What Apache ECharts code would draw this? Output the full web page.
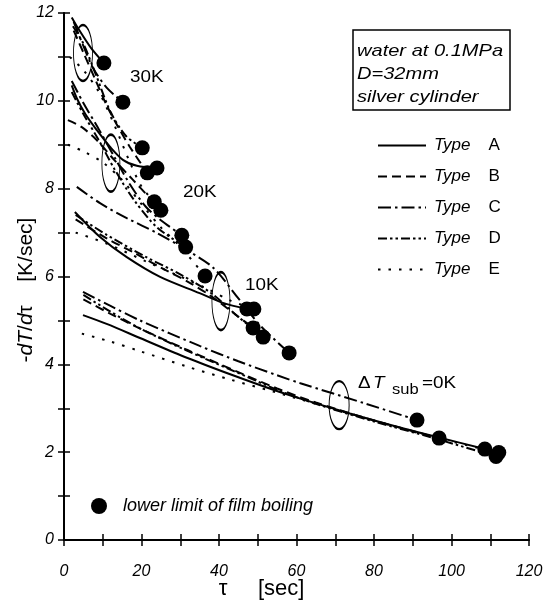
<!DOCTYPE html>
<html>
<head>
<meta charset="utf-8">
<script src="https://cdn.jsdelivr.net/npm/echarts@6/dist/echarts.min.js"></script>
<style>
  html, body { margin: 0; padding: 0; background: #fff; }
  #main { width: 560px; height: 601px; }
</style>
</head>
<body>
<div id="main"></div>
<script>
// cooling rate -dT/dtau vs. time tau, one curve per model type and subcooling
var typeNames = ['Type A', 'Type B', 'Type C', 'Type D', 'Type E'];

// [tau, rate] points, order A..E
var curves30K = [
  [[2, 11.9], [4, 11.6], [7, 11.2], [10.3, 10.86]],
  [[2.5, 11.6], [5, 11.1], [8, 10.5], [11, 9.9], [14, 9.4], [17, 8.95], [21.5, 8.36]],
  [[2.5, 11.8], [5, 11.25], [7.5, 10.75], [11, 10.3], [15.2, 9.97]],
  [[2.3, 11.7], [5, 11.3], [8, 10.65], [12, 9.75], [16, 9.2], [20.2, 8.93]],
  [[1.5, 11.0], [5, 10.7], [9, 10.2], [13, 9.45], [17, 8.6], [20, 8.05], [23.3, 7.7]]
];
var curves20K = [
  [[2, 10.35], [3.3, 10.06], [5.5, 9.7], [8.5, 9.33], [11.9, 8.95], [15.3, 8.65], [18.8, 8.52], [24, 8.47]],
  [[1, 9.56], [4.6, 9.4], [8.5, 9.1], [13, 8.65], [17.8, 8.2], [22, 7.8], [25, 7.51]],
  [[2, 10.45], [5, 9.95], [9, 9.35], [13, 8.72], [17, 8.1], [21, 7.6], [25, 7.28], [30.4, 6.94]],
  [[2, 10.2], [5, 9.7], [9, 9.1], [13, 8.45], [18, 7.75], [24, 7.12], [31.4, 6.67]],
  [[1, 9.0], [5, 8.85], [10, 8.6], [15, 8.2], [20, 7.65], [25, 7.12], [30, 6.68], [36.4, 6.01]]
];
var curves10K = [
  [[2.8, 7.47], [9.3, 6.9], [16.2, 6.44], [24.8, 5.99], [35, 5.62], [41, 5.4], [47.2, 5.26]],
  [[3, 7.3], [11, 6.87], [18.3, 6.53], [25, 6.2], [32, 5.88], [38, 5.55], [44, 5.15], [48.8, 4.83]],
  [[3.3, 8.04], [9.3, 7.67], [16.2, 7.33], [24, 6.99], [31.7, 6.6], [38.5, 6.2], [45, 5.5], [51, 4.85], [58.1, 4.26]],
  [[3, 7.4], [11, 6.95], [21, 6.45], [30, 6.05], [38, 5.62], [45, 5.08], [51.4, 4.62]],
  [[3, 7.0], [11, 6.75], [21, 6.35], [30, 6.0], [37, 5.72], [43, 5.45], [49, 5.26]]
];
var curves0K = [
  [[4.9, 5.12], [11, 4.92], [19.6, 4.6], [31.7, 4.15], [43.6, 3.75], [54, 3.42], [61, 3.22], [73.8, 2.88], [86.7, 2.56], [97, 2.33], [108.6, 2.07]],
  [[5, 5.48], [12, 5.15], [20, 4.8], [32, 4.32], [44, 3.86], [55, 3.45], [65, 3.13], [80, 2.72], [96.8, 2.32]],
  [[4.9, 5.65], [12, 5.33], [19.6, 5.0], [35, 4.42], [45, 4.07], [55, 3.75], [61, 3.57], [78, 3.1], [91.1, 2.73]],
  [[5, 5.58], [12, 5.2], [20, 4.8], [32, 4.3], [44, 3.84], [55, 3.42], [65, 3.1], [80, 2.7], [95, 2.33], [111.5, 1.9]],
  [[4.6, 4.7], [11.9, 4.52], [19.6, 4.3], [31.7, 3.95], [43, 3.65], [54, 3.38], [65, 3.1], [80, 2.72], [95, 2.35], [112.2, 1.99]]
];

// lower limit of film boiling
var limitTau  = [10.3, 15.2, 20.2, 21.5, 23.3, 24.0, 25.0, 30.4, 31.4, 36.4, 47.2, 49.0, 48.8, 51.4, 58.1, 91.1, 96.8, 108.6, 111.5, 112.2];
var limitRate = [10.86, 9.97, 8.93, 8.36, 7.70, 8.47, 7.51, 6.94, 6.67, 6.01, 5.26, 5.26, 4.83, 4.62, 4.26, 2.73, 2.32, 2.07, 1.90, 1.99];

// ellipse marks around each subcooling group
var ellipseTau  = [4.9, 12.1, 40.5, 71];
var ellipseRate = [11.09, 8.58, 5.44, 3.07];

var xTickLabels = [0, 20, 40, 60, 80, 100, 120];
var yTickLabels = [0, 2, 4, 6, 8, 10, 12];

var FONT = 'Liberation Sans, Arial, sans-serif';
var dashes = ['solid', [9, 5], [13, 4, 2.5, 4], [9, 3, 2.5, 3, 2.5, 3], [2.5, 8]];
var ellipseSizes = [[19, 56], [18, 57], [18, 58], [20, 48]];

var myChart = echarts.init(document.getElementById('main'));

var series = [];
[curves30K, curves20K, curves10K, curves0K].forEach(function (group) {
  group.forEach(function (pts, i) {
    series.push({
      name: typeNames[i],
      type: 'line',
      data: pts,
      smooth: 0.3,
      symbol: 'none',
      showSymbol: false,
      lineStyle: { color: '#000', width: 2, type: dashes[i] },
      itemStyle: { color: '#000' },
      z: 2
    });
  });
});

series.push({
  name: 'lower limit of film boiling',
  type: 'scatter',
  data: limitTau.map(function (t, i) { return [t, limitRate[i]]; }),
  symbol: 'circle',
  symbolSize: 15,
  itemStyle: { color: '#000', opacity: 1 },
  z: 3
});

series.push({
  name: 'group',
  type: 'scatter',
  data: ellipseTau.map(function (t, i) {
    return { value: [t, ellipseRate[i]], symbolSize: ellipseSizes[i] };
  }),
  symbol: 'circle',
  itemStyle: { color: 'rgba(0,0,0,0)', borderColor: '#000', borderWidth: 1.5, opacity: 1 },
  silent: true,
  z: 4
});

function txt(x, y, s, size, italic) {
  return {
    type: 'text', x: x, y: y, scaleX: 1.18,
    style: {
      text: s, fill: '#000', fontSize: size, fontFamily: FONT,
      fontStyle: italic ? 'italic' : 'normal', textVerticalAlign: 'middle'
    }
  };
}

var option = {
  animation: false,
  backgroundColor: '#fff',
  grid: { left: 64, right: 31, top: 13, bottom: 61, outerBoundsMode: 'none', containLabel: false },
  legend: [
    {
      data: typeNames,
      orient: 'vertical',
      left: 372, top: 132,
      itemWidth: 48, itemHeight: 14, itemGap: 14,
      itemStyle: { opacity: 0 },
      formatter: function (name) { return '{t|Type}{n|' + name.slice(5) + '}'; },
      textStyle: {
        color: '#000', fontFamily: FONT, fontSize: 17,
        rich: {
          t: { fontStyle: 'italic', fontFamily: FONT, fontSize: 17, padding: [0, 0, 0, 3] },
          n: { fontFamily: FONT, fontSize: 17, padding: [0, 0, 0, 18] }
        }
      },
      selectedMode: false
    },
    {
      data: ['lower limit of film boiling'],
      left: 86, top: 492,
      icon: 'circle',
      itemWidth: 16, itemHeight: 16,
      textStyle: { color: '#000', fontFamily: FONT, fontSize: 18, fontStyle: 'italic', padding: [0, 0, 0, 11] },
      selectedMode: false
    }
  ],
  xAxis: [
    {
      type: 'value', min: 0, max: 120, interval: 10,
      name: 'τ     [sec]',
      nameLocation: 'middle', nameGap: 38, nameMoveOverlap: false,
      nameTextStyle: { color: '#000', fontFamily: FONT, fontSize: 22, padding: [0, 70, 0, 0] },
      axisLine: { show: true, lineStyle: { color: '#000', width: 2 } },
      axisTick: { inside: true, length: 6, lineStyle: { color: '#000', width: 1.5 } },
      axisLabel: {
        color: '#000', fontFamily: FONT, fontSize: 16, fontStyle: 'italic', margin: 24,
        formatter: function (v) { return xTickLabels.indexOf(v) >= 0 ? String(v) : ''; }
      },
      splitLine: { show: false }
    },
    {
      type: 'value', min: 0, max: 120, interval: 10, position: 'top',
      axisLine: { show: true, lineStyle: { color: '#000', width: 1.5 } },
      axisTick: { inside: true, length: 6, lineStyle: { color: '#000', width: 1.5 } },
      axisLabel: { show: false },
      splitLine: { show: false }
    }
  ],
  yAxis: [
    {
      type: 'value', min: 0, max: 12, interval: 1,
      name: '-{i|dT}/{i|d}τ    [K/sec]',
      nameLocation: 'middle', nameGap: 27, nameRotate: 90, nameMoveOverlap: false,
      nameTextStyle: {
        color: '#000', fontFamily: FONT, fontSize: 21, padding: [0, 27, 0, 0],
        rich: { i: { fontStyle: 'italic', fontFamily: FONT, fontSize: 21 } }
      },
      axisLine: { show: true, lineStyle: { color: '#000', width: 2 } },
      axisTick: { inside: true, length: 6, lineStyle: { color: '#000', width: 1.5 } },
      axisLabel: {
        color: '#000', fontFamily: FONT, fontSize: 16, fontStyle: 'italic', margin: 10,
        formatter: function (v) { return yTickLabels.indexOf(v) >= 0 ? String(v) : ''; }
      },
      splitLine: { show: false }
    },
    {
      type: 'value', min: 0, max: 12, interval: 1, position: 'right',
      axisLine: { show: true, lineStyle: { color: '#000', width: 1.5 } },
      axisTick: { inside: true, length: 6, lineStyle: { color: '#000', width: 1.5 } },
      axisLabel: { show: false },
      splitLine: { show: false }
    }
  ],
  graphic: [
    { type: 'rect', shape: { x: 353, y: 30, width: 157, height: 80 },
      style: { fill: '#fff', stroke: '#000', lineWidth: 1.5 }, z: 10 },
    Object.assign(txt(357, 51, 'water at 0.1MPa', 17, true), { z: 11 }),
    Object.assign(txt(357, 74, 'D=32mm', 17, true), { z: 11 }),
    Object.assign(txt(357, 97, 'silver cylinder', 17, true), { z: 11 }),
    txt(130, 78, '30K', 16, false),
    txt(183, 193, '20K', 16, false),
    txt(245, 286, '10K', 16, false),
    txt(358, 384, 'Δ', 16, false),
    txt(373, 384, 'T', 16, true),
    txt(392, 390, 'sub', 14, false),
    txt(422, 384, '=0K', 16, false)
  ],
  series: series
};

myChart.setOption(option);
</script>
</body>
</html>
